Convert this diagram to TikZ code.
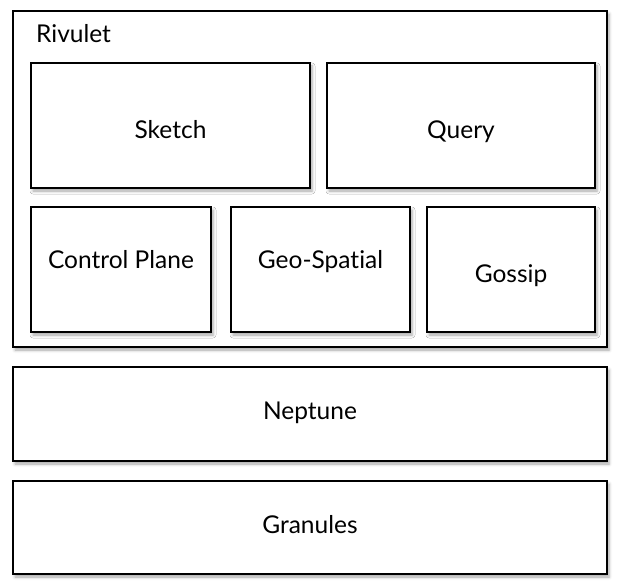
\documentclass[tikz,border=0pt]{standalone}
\usepackage{fontspec}
\setmainfont{Lato}[Ligatures={NoCommon,NoRare,NoDiscretionary}]
\usetikzlibrary{shadows.blur}
\begin{document}
\begin{tikzpicture}[x=1pt,y=-1pt,
  box/.style={draw=black, line width=2pt, fill=white, rectangle, inner sep=0pt,
    blur shadow={shadow xshift=2pt, shadow yshift=-3pt, shadow blur radius=3pt, shadow opacity=35}},
  lbl/.style={font=\fontsize{24.5}{27}\selectfont, inner sep=0pt, anchor=base}]
\useasboundingbox (0,0) rectangle (624,585);
\node[box, minimum width=594pt, minimum height=336pt] (rivulet) at (310,179) {};
\node[lbl, anchor=base west] (rivt) at (36,43) {Rivulet};
\node[box, minimum width=279pt, minimum height=125pt] (sketch) at (170.5,125.5) {};
\node[lbl] (sketcht) at ([yshift=-13pt]sketch.center) {Sketch};
\node[box, minimum width=268pt, minimum height=125pt] (query) at (461,125.5) {};
\node[lbl] (queryt) at ([yshift=-13pt]query.center) {Query};
\node[box, minimum width=180pt, minimum height=125pt] (control) at (121,269.5) {};
\node[lbl] (controlt) at ([yshift=1pt]control.center) {Control Plane};
\node[box, minimum width=179pt, minimum height=125pt] (geo) at (320.5,269.5) {};
\node[lbl] (geot) at ([yshift=1pt]geo.center) {Geo-Spatial};
\node[box, minimum width=168pt, minimum height=125pt] (gossip) at (511,269.5) {};
\node[lbl] (gossipt) at ([yshift=-13pt]gossip.center) {Gossip};
\node[box, minimum width=594pt, minimum height=94pt] (neptune) at (310,414) {};
\node[lbl] (neptunet) at ([yshift=-5pt]neptune.center) {Neptune};
\node[box, minimum width=594pt, minimum height=93pt] (granules) at (310,527.5) {};
\node[lbl] (granulest) at ([yshift=-6pt]granules.center) {Granules};
\end{tikzpicture}
\end{document}
